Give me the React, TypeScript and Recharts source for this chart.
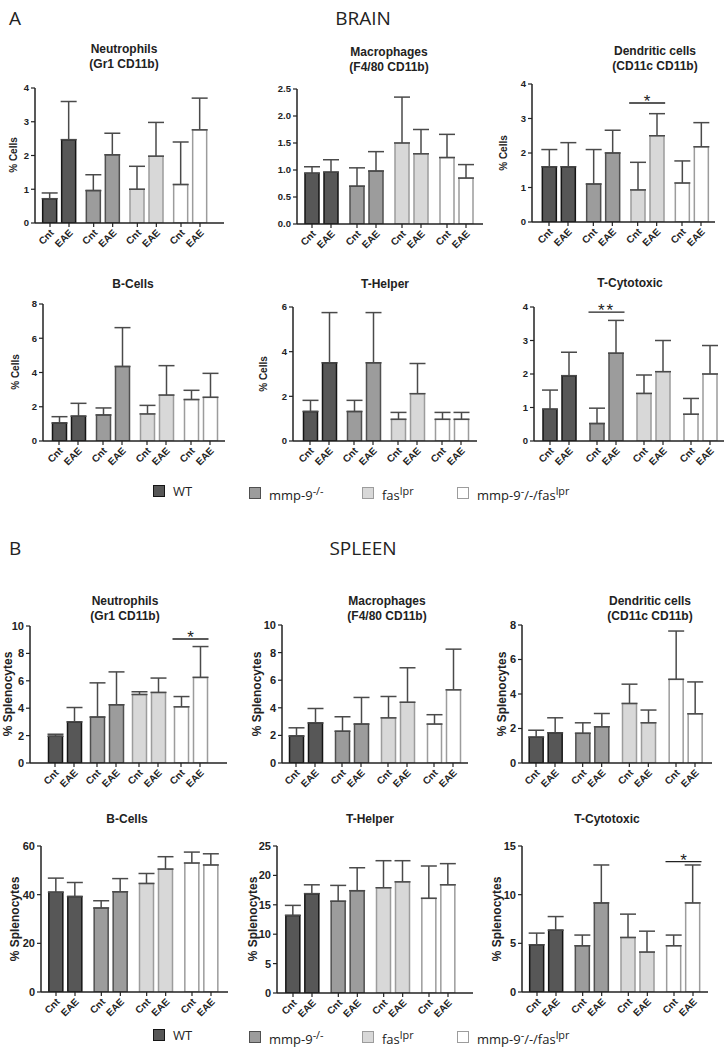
import React from "react";
import { BarChart, Bar, XAxis, YAxis, ErrorBar, Cell, ReferenceDot } from "recharts";

// --- data: 8 values per panel, ordered WT Cnt, WT EAE, mmp Cnt, mmp EAE, fas Cnt, fas EAE, dbl Cnt, dbl EAE
const GROUPS = ["WT", "mmp", "fas", "dbl"];
const CONDITIONS = ["Cnt", "EAE"];

const BRAIN_NEUT_MEAN = [0.72, 2.47, 0.96, 2.02, 1.0, 1.98, 1.14, 2.76];
const BRAIN_NEUT_SD = [0.17, 1.13, 0.47, 0.64, 0.68, 1.0, 1.26, 0.94];
const BRAIN_MACRO_MEAN = [0.94, 0.96, 0.7, 0.98, 1.5, 1.3, 1.23, 0.85];
const BRAIN_MACRO_SD = [0.12, 0.23, 0.34, 0.36, 0.85, 0.45, 0.43, 0.25];
const BRAIN_DEND_MEAN = [1.6, 1.6, 1.1, 2.0, 0.93, 2.5, 1.13, 2.18];
const BRAIN_DEND_SD = [0.5, 0.7, 1.0, 0.66, 0.8, 0.64, 0.64, 0.7];
const BRAIN_B_MEAN = [1.05, 1.45, 1.52, 4.35, 1.58, 2.68, 2.42, 2.55];
const BRAIN_B_SD = [0.37, 0.75, 0.41, 2.27, 0.5, 1.72, 0.54, 1.4];
const BRAIN_TH_MEAN = [1.32, 3.5, 1.32, 3.5, 0.97, 2.12, 0.97, 0.97];
const BRAIN_TH_SD = [0.5, 2.25, 0.5, 2.25, 0.31, 1.35, 0.31, 0.31];
const BRAIN_TC_MEAN = [0.95, 1.95, 0.52, 2.62, 1.42, 2.07, 0.8, 2.0];
const BRAIN_TC_SD = [0.57, 0.7, 0.46, 0.98, 0.55, 0.93, 0.47, 0.85];

const SPLEEN_NEUT_MEAN = [1.95, 3.0, 3.35, 4.25, 5.0, 5.15, 4.1, 6.25];
const SPLEEN_NEUT_SD = [0.15, 1.05, 2.5, 2.4, 0.2, 1.05, 0.75, 2.25];
const SPLEEN_MACRO_MEAN = [1.95, 2.9, 2.3, 2.82, 3.27, 4.4, 2.82, 5.3];
const SPLEEN_MACRO_SD = [0.6, 1.05, 1.05, 1.93, 1.55, 2.5, 0.68, 2.95];
const SPLEEN_DEND_MEAN = [1.5, 1.75, 1.72, 2.1, 3.45, 2.33, 4.85, 2.85];
const SPLEEN_DEND_SD = [0.4, 0.87, 0.61, 0.77, 1.12, 0.74, 2.8, 1.85];
const SPLEEN_B_MEAN = [41, 39.2, 34.5, 41.2, 44.6, 50.5, 53, 52.2];
const SPLEEN_B_SD = [5.8, 5.8, 3.0, 5.4, 4.1, 5.1, 4.5, 4.6];
const SPLEEN_TH_MEAN = [13.2, 16.9, 15.6, 17.4, 17.9, 18.9, 16.1, 18.4];
const SPLEEN_TH_SD = [1.7, 1.5, 2.7, 3.9, 4.6, 3.6, 5.5, 3.6];
const SPLEEN_TC_MEAN = [4.85, 6.35, 4.75, 9.15, 5.6, 4.1, 4.75, 9.15];
const SPLEEN_TC_SD = [1.2, 1.4, 1.1, 3.9, 2.4, 2.15, 1.1, 3.9];

// y ticks
const TICKS_0_4 = [0, 1, 2, 3, 4];
const TICKS_0_25 = [0, 0.5, 1.0, 1.5, 2.0, 2.5];
const TICKS_0_8 = [0, 2, 4, 6, 8];
const TICKS_0_6 = [0, 2, 4, 6];
const TICKS_0_10 = [0, 2, 4, 6, 8, 10];
const TICKS_0_60 = [0, 20, 40, 60];
const TICKS_0_25B = [0, 5, 10, 15, 20, 25];
const TICKS_0_15 = [0, 5, 10, 15];

// significance marks
const BRAIN_DEND_SIG = { group: "fas", level: 3.45, label: "*" };
const BRAIN_TC_SIG = { group: "mmp", level: 3.85, label: "**" };
const SPLEEN_NEUT_SIG = { group: "dbl", level: 9.05, label: "*" };
const SPLEEN_TC_SIG = { group: "dbl", level: 13.4, label: "*" };

// --- styles
const SANS = '"Liberation Sans", Arial, sans-serif';
const FILLS = ["#575757", "#9c9c9c", "#d8d8d8", "#ffffff"];
const STROKES = ["#151515", "#505050", "#9c9c9c", "#9c9c9c"];
const AXIS = "#222";
const BAR_SIZE = 14;
const BAR_GAP = 5;

type Layout = {
  axisX: number;
  axisEnd: number;
  yTop: number;
  yBottom: number;
  barsLeft: number;
  barsRight: number;
};

type Sig = { group: string; level: number; label: string };

function buildRows(means: number[], sds: number[]) {
  return GROUPS.map((g, i) => ({
    group: g,
    cnt: means[2 * i],
    eae: means[2 * i + 1],
    cntErr: [0, sds[2 * i]],
    eaeErr: [0, sds[2 * i + 1]],
  }));
}

function PairTick(props: any) {
  const { x, y } = props;
  const half = (BAR_SIZE + BAR_GAP) / 2;
  return (
    <g>
      {CONDITIONS.map((c, i) => {
        const tx = x + (i === 0 ? -half : half);
        const lx = tx + 2;
        const ly = y + 8;
        return (
          <g key={c}>
            <line x1={tx} x2={tx} y1={y} y2={y + 4} stroke={AXIS} strokeWidth={1.2} />
            <text
              x={lx}
              y={ly}
              textAnchor="end"
              dominantBaseline="central"
              transform={`rotate(-45 ${lx} ${ly})`}
              fontSize={10}
              fontWeight={700}
              fontFamily={SANS}
              fill={AXIS}
            >
              {c}
            </text>
          </g>
        );
      })}
    </g>
  );
}

function makeSigShape(label: string) {
  return (props: any) => {
    const { cx, cy } = props;
    return (
      <g>
        <line x1={cx - 18} x2={cx + 18} y1={cy} y2={cy} stroke={AXIS} strokeWidth={1.3} />
        <text
          x={cx}
          y={cy + 4}
          textAnchor="middle"
          fontSize={17}
          fontFamily={SANS}
          fill={AXIS}
          letterSpacing={label.length > 1 ? 2 : 0}
        >
          {label}
        </text>
      </g>
    );
  };
}

function Panel({
  means,
  sds,
  ticks,
  decimals = 0,
  layout,
  sig,
  tickFont = 9.5,
}: {
  means: number[];
  sds: number[];
  ticks: number[];
  decimals?: number;
  layout: Layout;
  sig?: Sig;
  tickFont?: number;
}) {
  const rows = buildRows(means, sds);
  const groupW = BAR_SIZE * 2 + BAR_GAP;
  const pitch = (layout.barsRight - layout.barsLeft - groupW) / 3;
  const spare = (pitch - groupW) / 2;
  const padL = layout.barsLeft - spare - layout.axisX;
  const padR = layout.axisEnd - layout.barsRight - spare;
  const ML = 50;
  const MT = 14;
  const MB = 45;
  const MR = 4;
  const width = layout.axisEnd - layout.axisX + ML + MR;
  const height = layout.yBottom - layout.yTop + MT + MB;

  return (
    <div style={{ position: "absolute", left: layout.axisX - ML, top: layout.yTop - MT }}>
      <BarChart
        width={width}
        height={height}
        data={rows}
        margin={{ top: MT, right: MR, left: 0, bottom: 0 }}
        barGap={BAR_GAP}
        barSize={BAR_SIZE}
      >
        <XAxis
          dataKey="group"
          height={MB}
          padding={{ left: padL, right: padR }}
          axisLine={{ stroke: AXIS, strokeWidth: 1.5 }}
          tickLine={false}
          tickSize={0}
          tickMargin={0}
          interval={0}
          tick={<PairTick />}
        />
        <YAxis
          width={ML}
          domain={[0, ticks[ticks.length - 1]]}
          ticks={ticks}
          allowDataOverflow
          axisLine={{ stroke: AXIS, strokeWidth: 1.5 }}
          tickLine={{ stroke: AXIS, strokeWidth: 1.2 }}
          tickSize={4}
          tickMargin={2}
          tickFormatter={(v: number) => v.toFixed(decimals)}
          tick={{ fontSize: tickFont, fontWeight: 700, fill: AXIS, fontFamily: SANS }}
        />
        {(["cnt", "eae"] as const).map((key) => (
          <Bar key={key} dataKey={key} isAnimationActive={false} strokeWidth={1.5}>
            {rows.map((r, i) => (
              <Cell key={r.group} fill={FILLS[i]} stroke={STROKES[i]} />
            ))}
            <ErrorBar
              dataKey={key + "Err"}
              direction="y"
              width={8}
              stroke="#4a4a4a"
              strokeWidth={1.5}
              isAnimationActive={false}
            />
          </Bar>
        ))}
        {sig && (
          <ReferenceDot
            x={sig.group}
            y={sig.level}
            r={0}
            ifOverflow="visible"
            shape={makeSigShape(sig.label)}
          />
        )}
      </BarChart>
    </div>
  );
}

function Title({ lines, cx, top }: { lines: string[]; cx: number; top: number }) {
  return (
    <div
      style={{
        position: "absolute",
        left: cx,
        top,
        transform: "translateX(-50%)",
        textAlign: "center",
        font: `bold 12px ${SANS}`,
        lineHeight: "15px",
        color: AXIS,
        whiteSpace: "nowrap",
      }}
    >
      {lines.map((l) => (
        <div key={l}>{l}</div>
      ))}
    </div>
  );
}

function YLabel({ text, cx, cy, size }: { text: string; cx: number; cy: number; size: number }) {
  return (
    <div
      style={{
        position: "absolute",
        left: cx,
        top: cy,
        transform: "translate(-50%, -50%) rotate(-90deg)",
        font: `bold ${size}px ${SANS}`,
        color: AXIS,
        whiteSpace: "nowrap",
      }}
    >
      {text}
    </div>
  );
}

const LEGEND_ITEMS = [
  { x: 153, label: <>WT</> },
  { x: 249, label: <>mmp-9<sup>-/-</sup></> },
  { x: 362, label: <>fas<sup>lpr</sup></> },
  { x: 457, label: <>mmp-9<sup>-</sup>/-/fas<sup>lpr</sup></> },
];

function Legend({ top }: { top: number }) {
  return (
    <>
      {LEGEND_ITEMS.map((it, i) => (
        <div
          key={i}
          style={{
            position: "absolute",
            left: it.x,
            top,
            display: "flex",
            alignItems: "center",
            gap: 8,
            font: '13px "Open Sans", sans-serif',
            color: "#222",
            whiteSpace: "nowrap",
            lineHeight: "16px",
          }}
        >
          <div
            style={{
              width: 12,
              height: 12,
              background: FILLS[i],
              border: `1.5px solid ${STROKES[i]}`,
              boxSizing: "border-box",
            }}
          />
          <span style={{ fontSize: 13 }}>{it.label}</span>
        </div>
      ))}
    </>
  );
}

function Header({ letter, title, top }: { letter: string; title: string; top: number }) {
  const st: React.CSSProperties = {
    position: "absolute",
    top,
    font: '19px "Open Sans", sans-serif',
    color: "#222",
    lineHeight: "22px",
  };
  return (
    <>
      <div style={{ ...st, left: 9 }}>{letter}</div>
      <div style={{ ...st, left: 363, transform: "translateX(-50%)" }}>{title}</div>
    </>
  );
}

export default function App() {
  return (
    <div
      style={{
        position: "absolute",
        left: 0,
        top: 0,
        width: 727,
        height: 1049,
        background: "#fff",
        overflow: "hidden",
      }}
    >
      <Header letter="A" title="BRAIN" top={7} />

      <Title lines={["Neutrophils", "(Gr1 CD11b)"]} cx={124} top={42} />
      <YLabel text="% Cells" cx={13} cy={155} size={10} />
      <Panel
        means={BRAIN_NEUT_MEAN}
        sds={BRAIN_NEUT_SD}
        ticks={TICKS_0_4}
        layout={{ axisX: 35, axisEnd: 224, yTop: 88, yBottom: 223, barsLeft: 43, barsRight: 207 }}
      />

      <Title lines={["Macrophages", "(F4/80 CD11b)"]} cx={389} top={45} />
      <Panel
        means={BRAIN_MACRO_MEAN}
        sds={BRAIN_MACRO_SD}
        ticks={TICKS_0_25}
        decimals={1}
        layout={{ axisX: 297, axisEnd: 483, yTop: 89, yBottom: 224, barsLeft: 305, barsRight: 473 }}
      />

      <Title lines={["Dendritic cells", "(CD11c CD11b)"]} cx={655} top={44} />
      <YLabel text="% Cells" cx={503} cy={153} size={10} />
      <Panel
        means={BRAIN_DEND_MEAN}
        sds={BRAIN_DEND_SD}
        ticks={TICKS_0_4}
        sig={BRAIN_DEND_SIG}
        layout={{ axisX: 532, axisEnd: 715, yTop: 84, yBottom: 222, barsLeft: 542, barsRight: 708 }}
      />

      <Title lines={["B-Cells"]} cx={133} top={277} />
      <YLabel text="% Cells" cx={15} cy={372} size={10} />
      <Panel
        means={BRAIN_B_MEAN}
        sds={BRAIN_B_SD}
        ticks={TICKS_0_8}
        layout={{ axisX: 43, axisEnd: 225, yTop: 304, yBottom: 441, barsLeft: 52, barsRight: 217 }}
      />

      <Title lines={["T-Helper"]} cx={385} top={277} />
      <YLabel text="% Cells" cx={263} cy={374} size={10} />
      <Panel
        means={BRAIN_TH_MEAN}
        sds={BRAIN_TH_SD}
        ticks={TICKS_0_6}
        layout={{ axisX: 293, axisEnd: 477, yTop: 307, yBottom: 441, barsLeft: 303, barsRight: 468 }}
      />

      <Title lines={["T-Cytotoxic"]} cx={630} top={276} />
      <Panel
        means={BRAIN_TC_MEAN}
        sds={BRAIN_TC_SD}
        ticks={TICKS_0_4}
        sig={BRAIN_TC_SIG}
        layout={{ axisX: 534, axisEnd: 724, yTop: 307, yBottom: 441, barsLeft: 543, barsRight: 717 }}
      />

      <Legend top={483} />

      <Header letter="B" title="SPLEEN" top={537} />

      <Title lines={["Neutrophils", "(Gr1 CD11b)"]} cx={125} top={594} />
      <YLabel text="% Splenocytes" cx={8} cy={694} size={12} />
      <Panel
        means={SPLEEN_NEUT_MEAN}
        sds={SPLEEN_NEUT_SD}
        ticks={TICKS_0_10}
        tickFont={11}
        sig={SPLEEN_NEUT_SIG}
        layout={{ axisX: 30, axisEnd: 227, yTop: 626, yBottom: 763, barsLeft: 48, barsRight: 207 }}
      />

      <Title lines={["Macrophages", "(F4/80 CD11b)"]} cx={387} top={594} />
      <YLabel text="% Splenocytes" cx={257} cy={694} size={12} />
      <Panel
        means={SPLEEN_MACRO_MEAN}
        sds={SPLEEN_MACRO_SD}
        ticks={TICKS_0_10}
        tickFont={11}
        layout={{ axisX: 282, axisEnd: 468, yTop: 625, yBottom: 763, barsLeft: 289, barsRight: 460 }}
      />

      <Title lines={["Dendritic cells", "(CD11c CD11b)"]} cx={650} top={594} />
      <YLabel text="% Splenocytes" cx={502} cy={694} size={12} />
      <Panel
        means={SPLEEN_DEND_MEAN}
        sds={SPLEEN_DEND_SD}
        ticks={TICKS_0_8}
        tickFont={11}
        layout={{ axisX: 522, axisEnd: 712, yTop: 625, yBottom: 763, barsLeft: 529, barsRight: 702 }}
      />

      <Title lines={["B-Cells"]} cx={127} top={812} />
      <YLabel text="% Splenocytes" cx={15} cy={919} size={12} />
      <Panel
        means={SPLEEN_B_MEAN}
        sds={SPLEEN_B_SD}
        ticks={TICKS_0_60}
        tickFont={11}
        layout={{ axisX: 41, axisEnd: 228, yTop: 846, yBottom: 992, barsLeft: 49, barsRight: 218 }}
      />

      <Title lines={["T-Helper"]} cx={370} top={812} />
      <YLabel text="% Splenocytes" cx={253} cy={919} size={12} />
      <Panel
        means={SPLEEN_TH_MEAN}
        sds={SPLEEN_TH_SD}
        ticks={TICKS_0_25B}
        tickFont={11}
        layout={{ axisX: 277, axisEnd: 473, yTop: 846, yBottom: 993, barsLeft: 286, barsRight: 455 }}
      />

      <Title lines={["T-Cytotoxic"]} cx={607} top={812} />
      <YLabel text="% Splenocytes" cx={497} cy={919} size={12} />
      <Panel
        means={SPLEEN_TC_MEAN}
        sds={SPLEEN_TC_SD}
        ticks={TICKS_0_15}
        tickFont={11}
        sig={SPLEEN_TC_SIG}
        layout={{ axisX: 522, axisEnd: 708, yTop: 846, yBottom: 992, barsLeft: 530, barsRight: 700 }}
      />

      <Legend top={1027} />
    </div>
  );
}
